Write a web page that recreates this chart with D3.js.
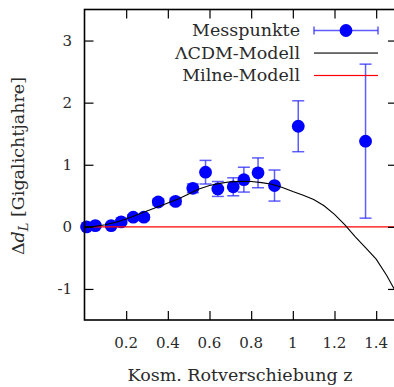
<!DOCTYPE html>
<html>
<head>
<meta charset="utf-8">
<script src="https://d3js.org/d3.v7.min.js"></script>
<style>
  body { margin: 0; background: white; }
  svg text { font-family: "DejaVu Serif", "Liberation Serif", serif; }
</style>
</head>
<body>
<script>
//measured points (redshift, delta d_L, error)
var pointZ   = [0.01, 0.052, 0.128, 0.176, 0.234, 0.285, 0.354, 0.437, 0.52, 0.581, 0.64, 0.714, 0.765, 0.833, 0.912, 1.026, 1.349];
var pointVal = [0.0, 0.02, 0.02, 0.08, 0.155, 0.155, 0.40, 0.41, 0.62, 0.88, 0.61, 0.645, 0.76, 0.87, 0.665, 1.62, 1.38];
var pointErr = [0.02, 0.03, 0.03, 0.03, 0.04, 0.04, 0.05, 0.05, 0.07, 0.19, 0.12, 0.145, 0.2, 0.24, 0.25, 0.41, 1.24];

//lambda-cdm model curve samples
var modelZ   = [0, 0.05, 0.1, 0.15, 0.2, 0.25, 0.3, 0.35, 0.4, 0.45, 0.5, 0.55, 0.6, 0.65, 0.7, 0.75, 0.8, 0.85, 0.9, 0.95, 1.0, 1.05, 1.1, 1.15, 1.2, 1.25, 1.3, 1.35, 1.4, 1.45, 1.5];
var modelVal = [0, 0.008, 0.035, 0.075, 0.125, 0.19, 0.255, 0.32, 0.385, 0.45, 0.53, 0.61, 0.665, 0.7, 0.725, 0.733, 0.73, 0.712, 0.685, 0.635, 0.57, 0.51, 0.44, 0.34, 0.2, 0.03, -0.16, -0.34, -0.52, -0.78, -1.08];

//milne model (zero line)
var milneZ   = [0, 1.5];
var milneVal = [0, 0];

//axis ticks
var xTicks = [0.2, 0.4, 0.6, 0.8, 1, 1.2, 1.4];
var yTicks = [-1, 0, 1, 2, 3];

//legend labels
var legendLabels = ["Messpunkte", "\u039BCDM-Modell", "Milne-Modell"];

var width = 394, height = 387;

var svg = d3.select("body")
    .append("svg")
    .attr("width", width)
    .attr("height", height);

//scales
var x = d3.scaleLinear().domain([0, 1.5]).range([84.5, 397]);
var y = d3.scaleLinear().domain([-1.5, 3.5]).range([320, 9.5]);

var blue = "#0000ff", errBlue = "rgba(40,40,255,0.75)", ink = "#2a2a2a";

var plot = svg.append("g");

//error bars
var bars = plot.selectAll(".err")
    .data(pointZ)
    .enter()
    .append("g")
    .attr("class", "err")
    .attr("stroke", errBlue)
    .attr("stroke-width", 1.5);

bars.append("line")
    .attr("x1", function(d){ return x(d); })
    .attr("x2", function(d){ return x(d); })
    .attr("y1", function(d, i){ return y(pointVal[i] - pointErr[i]); })
    .attr("y2", function(d, i){ return y(pointVal[i] + pointErr[i]); });
bars.append("line")
    .attr("x1", function(d){ return x(d) - 6; })
    .attr("x2", function(d){ return x(d) + 6; })
    .attr("y1", function(d, i){ return y(pointVal[i] - pointErr[i]); })
    .attr("y2", function(d, i){ return y(pointVal[i] - pointErr[i]); });
bars.append("line")
    .attr("x1", function(d){ return x(d) - 6; })
    .attr("x2", function(d){ return x(d) + 6; })
    .attr("y1", function(d, i){ return y(pointVal[i] + pointErr[i]); })
    .attr("y2", function(d, i){ return y(pointVal[i] + pointErr[i]); });

//points
plot.selectAll(".pt")
    .data(pointZ)
    .enter()
    .append("circle")
    .attr("class", "pt")
    .attr("cx", function(d){ return x(d); })
    .attr("cy", function(d, i){ return y(pointVal[i]); })
    .attr("r", 6.4)
    .attr("fill", blue);

//model lines
var line = d3.line()
    .x(function(d){ return x(d[0]); })
    .y(function(d){ return y(d[1]); });

plot.append("path")
    .datum(d3.zip(milneZ, milneVal))
    .attr("d", line)
    .attr("fill", "none")
    .attr("stroke", "#ff0000")
    .attr("stroke-width", 1.2);

plot.append("path")
    .datum(d3.zip(modelZ, modelVal))
    .attr("d", line)
    .attr("fill", "none")
    .attr("stroke", "#000")
    .attr("stroke-width", 1.1);

//axes, ticks point inward on all four sides
svg.append("g")
    .attr("transform", "translate(0," + y(-1.5) + ")")
    .call(d3.axisTop(x).tickValues(xTicks).tickSize(9).tickFormat(""));
svg.append("g")
    .attr("transform", "translate(0," + y(3.5) + ")")
    .call(d3.axisBottom(x).tickValues(xTicks).tickSize(9).tickFormat(""));
svg.append("g")
    .attr("transform", "translate(" + x(0) + ",0)")
    .call(d3.axisRight(y).tickValues(yTicks).tickSize(9).tickFormat(""));
svg.append("g")
    .attr("transform", "translate(" + x(1.5) + ",0)")
    .call(d3.axisLeft(y).tickValues(yTicks).tickSize(9).tickFormat(""));
svg.selectAll(".domain").remove();
svg.selectAll(".tick line").attr("stroke", "#000").attr("stroke-width", 1.2);

//frame
svg.append("rect")
    .attr("x", x(0))
    .attr("y", y(3.5))
    .attr("width", x(1.5) - x(0))
    .attr("height", y(-1.5) - y(3.5))
    .attr("fill", "none")
    .attr("stroke", "#000")
    .attr("stroke-width", 1.6);

//tick labels
svg.selectAll(".xl")
    .data(xTicks)
    .enter()
    .append("text")
    .attr("x", function(d){ return x(d); })
    .attr("y", 347.5)
    .attr("text-anchor", "middle")
    .attr("font-size", 15)
    .attr("fill", ink)
    .text(function(d){ return d; });

svg.selectAll(".yl")
    .data(yTicks)
    .enter()
    .append("text")
    .attr("x", 72)
    .attr("y", function(d){ return y(d) + 5; })
    .attr("text-anchor", "end")
    .attr("font-size", 15)
    .attr("fill", ink)
    .text(function(d){ return d; });

//axis titles
svg.append("text")
    .attr("x", 240)
    .attr("y", 381)
    .attr("text-anchor", "middle")
    .attr("font-size", 17.5)
    .attr("fill", ink)
    .text("Kosm. Rotverschiebung z");

var yt = svg.append("text")
    .attr("transform", "translate(24,166) rotate(-90)")
    .attr("text-anchor", "middle")
    .attr("font-size", 17.5)
    .attr("fill", ink);
yt.append("tspan").text("\u0394");
yt.append("tspan").attr("font-style", "italic").text("d");
yt.append("tspan").attr("font-style", "italic").attr("font-size", 13).attr("dy", 4).text("L");
yt.append("tspan").attr("dy", -4).text(" [Gigalichtjahre]");

//legend
var legendY = [30.5, 53, 75.5];
svg.selectAll(".lg")
    .data(legendLabels)
    .enter()
    .append("text")
    .attr("x", 300)
    .attr("y", function(d, i){ return legendY[i] + 5.5; })
    .attr("text-anchor", "end")
    .attr("font-size", 17.5)
    .attr("fill", ink)
    .text(function(d){ return d; });

var key = svg.append("g").attr("stroke", errBlue).attr("stroke-width", 1.5);
key.append("line").attr("x1", 314).attr("x2", 378).attr("y1", legendY[0]).attr("y2", legendY[0]);
key.append("line").attr("x1", 314).attr("x2", 314).attr("y1", legendY[0] - 4).attr("y2", legendY[0] + 4);
key.append("line").attr("x1", 378).attr("x2", 378).attr("y1", legendY[0] - 4).attr("y2", legendY[0] + 4);
svg.append("circle").attr("cx", 346).attr("cy", legendY[0]).attr("r", 6.4).attr("fill", blue);
svg.append("rect").attr("x", 314).attr("width", 64).attr("y", legendY[1] - 0.5).attr("height", 1.1)
    .attr("fill", "#000");
svg.append("rect").attr("x", 314).attr("width", 64).attr("y", legendY[2] - 0.6).attr("height", 1.2)
    .attr("fill", "#ff0000");
</script>
</body>
</html>
